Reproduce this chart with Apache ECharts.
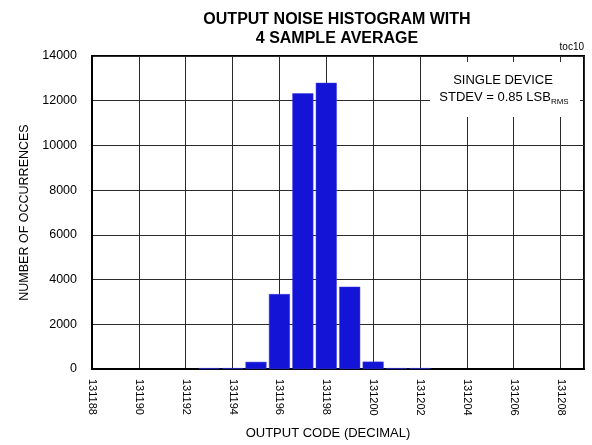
<!DOCTYPE html>
<html>
<head>
<meta charset="utf-8">
<script src="https://cdn.jsdelivr.net/npm/echarts@6/dist/echarts.min.js"></script>
<style>
  html, body { margin: 0; padding: 0; background: #fff; }
  #chart { width: 592px; height: 445px; }
</style>
</head>
<body>
<div id="chart"></div>
<script>
// ---- data ----
const titleLines = ['OUTPUT NOISE HISTOGRAM WITH', '4 SAMPLE AVERAGE'];
const codes = [131193, 131194, 131195, 131196, 131197, 131198, 131199, 131200, 131201, 131202];
const counts = [40, 40, 320, 3350, 12330, 12800, 3680, 330, 40, 40];
const xMin = 131188, xMax = 131209, xStep = 2;
const yMin = 0, yMax = 14000, yStep = 2000;
const xTitle = 'OUTPUT CODE (DECIMAL)';
const yTitle = 'NUMBER OF OCCURRENCES';
const tag = 'toc10';
const noteLine1 = 'SINGLE DEVICE';
const noteLine2 = 'STDEV = 0.85 LSB';
const noteSub = 'RMS';

const FONT = "'Liberation Sans', Arial, sans-serif";

const chart = echarts.init(document.getElementById('chart'), null, { renderer: 'canvas' });
const barData = codes.map((c, i) => [c, counts[i]]);

chart.setOption({
  animation: false,
  backgroundColor: '#fff',
  title: {
    text: titleLines.join('\n'),
    left: 332, textAlign: 'center',
    top: 5,
    textStyle: { fontFamily: FONT, fontWeight: 'bold', fontSize: 16, lineHeight: 19, color: '#000' }
  },
  grid: {
    left: 92, right: 8, top: 56, bottom: 76,
    show: true, borderColor: '#000', borderWidth: 2, backgroundColor: 'transparent'
  },
  xAxis: {
    type: 'value', min: xMin, max: xMax, interval: xStep,
    name: xTitle, nameLocation: 'middle', nameGap: 58,
    nameTextStyle: { fontFamily: FONT, fontSize: 13, color: '#000', padding: [0, 20, 0, 0] },
    axisLine: { show: true, lineStyle: { color: '#000', width: 2 } },
    axisTick: { show: false },
    axisLabel: {
      rotate: -90, margin: 10, showMaxLabel: false,
      fontFamily: FONT, fontSize: 11, color: '#000',
      formatter: v => String(v)
    },
    splitLine: { show: true, lineStyle: { color: '#2a2a2a', width: 1 } }
  },
  yAxis: {
    type: 'value', min: yMin, max: yMax, interval: yStep,
    name: yTitle, nameLocation: 'middle', nameGap: 61,
    nameTextStyle: { fontFamily: FONT, fontSize: 12.5, color: '#000' },
    axisLine: { show: true, lineStyle: { color: '#000', width: 2 } },
    axisTick: { show: false },
    axisLabel: { margin: 15, fontFamily: FONT, fontSize: 12.5, color: '#000', formatter: v => String(v) },
    splitLine: { show: true, lineStyle: { color: '#2a2a2a', width: 1 } }
  },
  series: [{
    type: 'bar',
    data: barData,
    barWidth: 21,
    itemStyle: { color: '#1414d6', borderColor: '#3a3ae0', borderWidth: 0.5 },
    z: 3
  }],
  graphic: [
    { type: 'rect', shape: { x: 430, y: 62, width: 150, height: 55 }, style: { fill: '#fff' }, z: 10 },
    { type: 'text', x: 503, y: 80, style: { text: noteLine1, fontFamily: FONT, fontSize: 13, fill: '#000', align: 'center', verticalAlign: 'middle' }, z: 11 },
    { type: 'text', x: 504, y: 97, style: {
        text: '{a|' + noteLine2 + '}{s|' + noteSub + '}',
        rich: {
          a: { fontFamily: FONT, fontSize: 13, fill: '#000', verticalAlign: 'middle' },
          s: { fontFamily: FONT, fontSize: 8, fill: '#000', padding: [9, 0, 0, 0] }
        },
        align: 'center', verticalAlign: 'middle' }, z: 11 },
    { type: 'text', x: 584, y: 47, style: { text: tag, fontFamily: FONT, fontSize: 10, fill: '#000', align: 'right', verticalAlign: 'middle' }, z: 11 }
  ]
});
</script>
</body>
</html>
